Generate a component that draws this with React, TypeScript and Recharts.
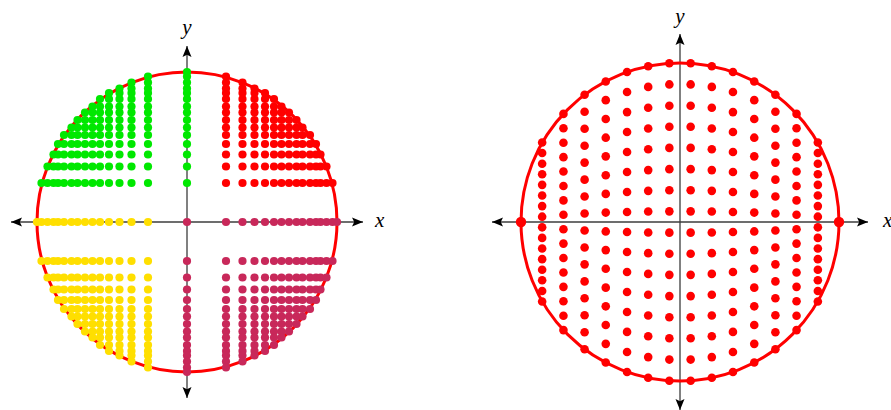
import { ScatterChart, Scatter, XAxis, YAxis, ReferenceLine } from "recharts";

// left figure: level values along each half-axis (unit = circle radius)
const QUAD_LEVELS = [0.26, 0.37, 0.45, 0.52, 0.58, 0.63, 0.68, 0.73, 0.77, 0.82, 0.86, 0.89, 0.93, 0.97, 1.0];
// number of dots in each quadrant row, row k sits at QUAD_LEVELS[k]
const QUAD_ROW_LENGTHS = [14, 13, 12, 11, 10, 9, 8, 7, 6, 5, 4, 3, 2, 1];

// right figure: column positions, their half height inside the disc, and row steps
const DISC_COLUMNS = [0.067, 0.2, 0.333, 0.467, 0.6, 0.733, 0.867];
const DISC_HALF_HEIGHTS = [0.998, 0.98, 0.943, 0.884, 0.8, 0.68, 0.5];
const DISC_ROW_STEPS = [
  -1, -0.867, -0.733, -0.6, -0.467, -0.333, -0.2, -0.067, 0.067, 0.2, 0.333, 0.467, 0.6, 0.733, 0.867, 1,
];
const DISC_POLES = [-1, 1];

const GREEN = "#00e800";
const RED = "#ff0000";
const YELLOW = "#ffdf00";
const CRIMSON = "#c8285a";

type Pt = { x: number; y: number };

const quadrant = (sx: number, sy: number): Pt[] =>
  QUAD_ROW_LENGTHS.flatMap((n, r) => QUAD_LEVELS.slice(0, n).map((v) => ({ x: sx * v, y: sy * QUAD_LEVELS[r] })));

const greenPts: Pt[] = [...quadrant(-1, 1), ...QUAD_LEVELS.map((v) => ({ x: 0, y: v }))];
const redPts: Pt[] = quadrant(1, 1);
const yellowPts: Pt[] = [...quadrant(-1, -1), ...QUAD_LEVELS.map((v) => ({ x: -v, y: 0 }))];
const crimsonPts: Pt[] = [
  ...quadrant(1, -1),
  ...QUAD_LEVELS.map((v) => ({ x: v, y: 0 })),
  ...QUAD_LEVELS.map((v) => ({ x: 0, y: -v })),
  { x: 0, y: 0 },
];

const discPts: Pt[] = [1, -1].flatMap((s) =>
  DISC_COLUMNS.flatMap((u, i) => DISC_ROW_STEPS.map((f) => ({ x: s * u, y: f * DISC_HALF_HEIGHTS[i] })))
);
const polePts: Pt[] = DISC_POLES.map((v) => ({ x: v, y: 0 }));

const dot = (r: number, fill: string) => (p: any) => <circle cx={p.cx} cy={p.cy} r={r} fill={fill} />;

const ring = (r: number) => (p: any) => <circle cx={p.cx} cy={p.cy} r={r} fill="none" stroke={RED} strokeWidth={3} />;

const arrowPath = (tx: number, ty: number, ux: number, uy: number) => {
  const L = 11;
  const W = 4.5;
  const bx = tx - ux * L;
  const by = ty - uy * L;
  const nx = -uy;
  const ny = ux;
  return `M${tx},${ty} L${bx + nx * W},${by + ny * W} L${tx - ux * L * 0.8},${ty - uy * L * 0.8} L${bx - nx * W},${by - ny * W} Z`;
};

const axisShape = (p: any) => {
  const { x1, y1, x2, y2 } = p;
  const len = Math.hypot(x2 - x1, y2 - y1) || 1;
  const dx = (x2 - x1) / len;
  const dy = (y2 - y1) / len;
  return (
    <g>
      <line x1={x1} y1={y1} x2={x2} y2={y2} stroke="#3c3c3c" strokeWidth={1.3} />
      <path d={arrowPath(x2, y2, dx, dy)} fill="#000" />
      <path d={arrowPath(x1, y1, -dx, -dy)} fill="#000" />
    </g>
  );
};

const labelStyle = {
  fill: "#000",
  fontSize: 21,
  fontStyle: "italic",
  fontFamily: "'Liberation Serif', 'DejaVu Serif', serif",
};

type FigProps = {
  width: number;
  margin: { top: number; right: number; bottom: number; left: number };
  half: number;
  radius: number;
  xOffset: number;
  yOffset: number;
  children: any;
};

const Figure = ({ width, margin, half, radius, xOffset, yOffset, children }: FigProps) => (
  <ScatterChart width={width} height={410} margin={margin}>
    <XAxis type="number" dataKey="x" domain={[-half, half]} hide allowDataOverflow />
    <YAxis type="number" dataKey="y" domain={[-half, half]} hide allowDataOverflow />
    <ReferenceLine
      y={0}
      shape={axisShape}
      label={{ value: "x", position: "right", offset: xOffset, dy: -2, ...labelStyle }}
    />
    <ReferenceLine
      x={0}
      shape={axisShape}
      label={{ value: "y", position: "top", offset: yOffset, ...labelStyle }}
    />
    <Scatter data={[{ x: 0, y: 0 }]} shape={ring(radius)} isAnimationActive={false} />
    {children}
  </ScatterChart>
);

export default function App() {
  return (
    <div style={{ position: "absolute", left: 0, top: 0, width: 891, height: 410, background: "#fff" }}>
      <div style={{ position: "absolute", left: 0, top: 0 }}>
        <Figure
          width={440}
          margin={{ top: 46, right: 77, bottom: 12, left: 11 }}
          half={176 / 150}
          radius={150}
          xOffset={12}
          yOffset={12}
        >
          <Scatter data={greenPts} shape={dot(4.1, GREEN)} isAnimationActive={false} />
          <Scatter data={redPts} shape={dot(4.1, RED)} isAnimationActive={false} />
          <Scatter data={yellowPts} shape={dot(4.1, YELLOW)} isAnimationActive={false} />
          <Scatter data={crimsonPts} shape={dot(4.1, CRIMSON)} isAnimationActive={false} />
        </Figure>
      </div>
      <div style={{ position: "absolute", left: 450, top: 0 }}>
        <Figure
          width={441}
          margin={{ top: 34, right: 23, bottom: 0, left: 42 }}
          half={188 / 159}
          radius={159}
          xOffset={15}
          yOffset={11}
        >
          <Scatter data={discPts} shape={dot(4.3, RED)} isAnimationActive={false} />
          <Scatter data={polePts} shape={dot(5.2, RED)} isAnimationActive={false} />
        </Figure>
      </div>
    </div>
  );
}
